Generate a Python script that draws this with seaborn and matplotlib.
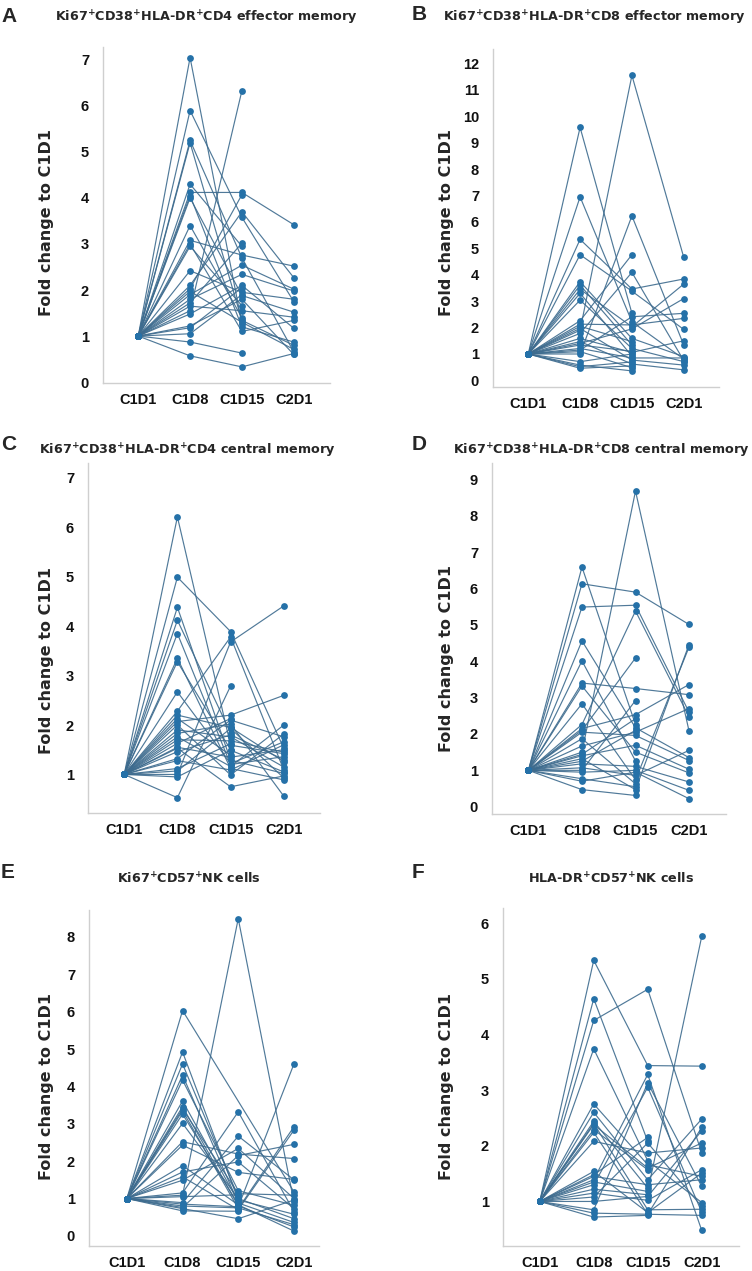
import numpy as np
import pandas as pd
import matplotlib
matplotlib.use("Agg")
import matplotlib.pyplot as plt
import seaborn as sns

nan = np.nan
TIMEPOINTS = ["C1D1", "C1D8", "C1D15", "C2D1"]

# A: Ki67+CD38+HLA-DR+ CD4 effector memory
A_C1D8 = [7.05, 5.9, 5.25, 5.2, 4.3, 4.12, 4.05, 4.0, 3.4, 3.08, 3.0, 2.95, 2.42, 2.1,
          2.03, 1.97, 1.9, 1.8, 1.72, 1.65, 1.55, 1.48, 1.22, 1.18, 1.05, 0.87, 0.57]
A_C1D15 = [1.27, 3.58, 2.7, 1.34, 2.95, 4.12, 1.2, 1.88, 1.4, 2.76, 1.1, 1.66, 1.95, 3.7,
           4.07, 1.3, 2.54, 2.34, 3.02, 1.55, 6.33, 2.1, 1.8, 2.05, 1.9, 0.63, 0.33]
A_C2D1 = [nan, 1.75, 0.66, 0.8, nan, 3.42, 0.87, 1.52, nan, 2.52, 1.34, nan, 1.8, 2.27,
          nan, 0.71, 2.02, 1.98, nan, 1.41, nan, 1.17, 0.6, nan, nan, nan, 0.62]

# B: Ki67+CD38+HLA-DR+ CD8 effector memory
B_C1D8 = [9.58, 6.95, 5.34, 4.76, 3.74, 3.61, 3.45, 3.3, 3.04, 2.26, 2.13, 2.05, 1.97, 1.9,
          1.78, 1.59, 1.47, 1.4, 1.34, 1.21, 1.15, 1.09, 1.0, 0.71, 0.58, 0.52, 0.46]
B_C1D15 = [2.54, 2.22, 3.46, 3.38, 1.59, 1.34, 2.03, 0.92, 1.21, 4.76, 2.1, 1.47, 0.77, 11.55,
           4.09, 1.06, 0.62, 1.95, 1.1, 0.85, 2.41, 0.48, 6.23, 1.0, 0.36, 0.7, 0.55]
B_C2D1 = [nan, 0.81, 3.84, 1.93, 0.9, nan, 3.65, nan, 0.71, nan, 2.35, nan, 0.58, 4.66,
          0.75, 1.5, 0.4, 3.1, nan, 0.85, 2.54, nan, 1.34, nan, nan, nan, nan]

# C: Ki67+CD38+HLA-DR+ CD4 central memory
C_C1D8 = [6.21, 4.99, 4.38, 4.12, 3.85, 3.35, 3.28, 2.67, 2.28, 2.2, 2.13, 2.07, 2.0, 1.9,
          1.83, 1.76, 1.7, 1.63, 1.55, 1.53, 1.46, 1.32, 1.28, 1.12, 1.07, 1.0, 0.95, 0.53]
C_C1D15 = [1.59, 3.89, 1.29, 1.84, 1.2, 1.12, 1.5, 1.22, 3.78, 1.95, 1.39, 2.2, 0.99, 1.76,
           2.02, 1.16, 1.68, 2.13, 1.35, 0.75, 1.8, 2.1, 1.09, 1.62, 1.93, 3.68, 1.49, 2.79]
C_C2D1 = [1.42, 1.53, 1.02, nan, 1.36, 0.89, nan, 1.66, 1.09, 1.26, nan, 2.6, 1.82, 1.15,
          0.56, 2.0, 1.45, nan, 1.5, 0.97, 1.3, 1.76, 1.6, nan, 0.93, 4.41, 1.05, nan]

# D: Ki67+CD38+HLA-DR+ CD8 central memory
D_C1D8 = [6.59, 6.13, 5.49, 4.56, 4.01, 3.4, 3.32, 2.83, 2.26, 2.15, 2.1, 2.05, 1.87,
          1.67, 1.5, 1.44, 1.4, 1.32, 1.25, 1.18, 1.07, 1.0, 0.95, 0.77, 0.7, 0.47]
D_C1D15 = [2.26, 5.9, 5.54, 2.17, 1.26, 3.25, 1.5, 0.74, 5.38, 2.53, 4.09, 1.96, 0.63,
           2.05, 8.68, 2.42, 1.69, 0.47, 2.1, 1.11, 0.86, 2.92, 1.0, 0.55, 0.95, 0.31]
D_C2D1 = [nan, 5.01, 2.6, 1.35, nan, 3.08, 0.93, 4.39, 2.47, 3.36, nan, 1.27, nan,
          2.7, 2.08, nan, 1.03, 4.46, nan, 0.68, 1.55, nan, 0.45, nan, 0.22, nan]

# E: Ki67+CD57+ NK cells
E_C1D8 = [6.03, 4.92, 4.6, 4.3, 4.17, 3.61, 3.46, 3.4, 3.35, 3.26, 3.01, 2.52, 2.43,
          1.88, 1.71, 1.58, 1.49, 1.15, 1.09, 1.05, 0.89, 0.85, 0.8, 0.76, 0.73, 0.67]
E_C1D15 = [nan, 0.96, 1.04, 0.88, 1.21, 0.92, 0.8, 1.13, 0.73, 0.85, 1.0, 2.19, 1.7,
           0.83, 1.98, 0.7, 2.34, 3.32, 8.49, 1.1, 2.67, 0.78, 0.75, 2.15, 0.46, 0.66]
E_C2D1 = [1.18, 0.58, nan, 0.36, 0.82, nan, 0.24, 1.09, 2.92, nan, 0.46, 2.07, 1.51,
          0.13, 0.73, 2.83, 1.0, 0.65, 0.9, nan, 1.5, 4.6, 0.3, 2.45, 0.96, nan]

# F: HLA-DR+CD57+ NK cells
F_C1D8 = [5.33, 4.64, 4.25, 3.74, 2.75, 2.6, 2.44, 2.4, 2.38, 2.29, 2.24, 2.08, 1.54,
          1.48, 1.45, 1.39, 1.35, 1.3, 1.22, 1.15, 1.08, 1.0, 0.85, 0.79, 0.72]
F_C1D15 = [3.44, 2.08, 4.81, 1.73, 1.66, 1.39, 1.24, 0.85, 1.6, 1.57, 0.77, 1.87, 0.8,
           2.15, 1.3, 3.28, 1.18, 3.05, 1.12, 1.02, 2.05, 1.09, 3.13, 0.77, 0.75]
F_C2D1 = [3.43, nan, 1.87, 0.98, 1.45, 2.48, nan, 0.86, 2.05, nan, 2.33, 1.96, 1.51,
          nan, 1.39, 0.48, 5.76, 0.81, nan, 1.57, 0.91, 2.27, 1.27, 0.75, nan]


def long_table(c1d8, c1d15, c2d1):
    rows = []
    for s, vals in enumerate(zip(c1d8, c1d15, c2d1)):
        for t, v in zip(TIMEPOINTS, (1.0,) + vals):
            if not np.isnan(v):
                rows.append({"subject": s, "pos": TIMEPOINTS.index(t), "value": v})
    return pd.DataFrame(rows)


sns.set_style("white")

LINE = "#3d6b8e"
DOT = "#2571a8"
SPINE = "#cfcfcf"

fig = plt.figure(figsize=(7.52, 12.71), dpi=100)
W, H = 752, 1271

panels = [
    # letter, title, data, axes box px (l, r, t, b), ylim, yticks, xlim right, letter xy, title xy, ylabel xy
    ("A", r"Ki67$^{\mathbf{+}}$CD38$^{\mathbf{+}}$HLA-DR$^{\mathbf{+}}$CD4 effector memory",
     (A_C1D8, A_C1D15, A_C2D1), (103, 330, 47, 383), (-0.02, 7.28), range(0, 8), 3.7,
     (1, 16), (206, 18), (47, 222)),
    ("B", r"Ki67$^{\mathbf{+}}$CD38$^{\mathbf{+}}$HLA-DR$^{\mathbf{+}}$CD8 effector memory",
     (B_C1D8, B_C1D15, B_C2D1), (493, 719, 49, 387), (-0.25, 12.55), range(0, 13), 3.68,
     (412, 15), (594, 18), (446, 222)),
    ("C", r"Ki67$^{\mathbf{+}}$CD38$^{\mathbf{+}}$HLA-DR$^{\mathbf{+}}$CD4 central memory",
     (C_C1D8, C_C1D15, C_C2D1), (88, 320, 463, 813), (0.22, 7.3), range(1, 8), 3.68,
     (1, 444), (187, 451), (47, 660)),
    ("D", r"Ki67$^{\mathbf{+}}$CD38$^{\mathbf{+}}$HLA-DR$^{\mathbf{+}}$CD8 central memory",
     (D_C1D8, D_C1D15, D_C2D1), (492, 726, 463, 814), (-0.2, 9.45), range(0, 10), 3.69,
     (412, 444), (601, 451), (446, 659)),
    ("E", r"Ki67$^{\mathbf{+}}$CD57$^{\mathbf{+}}$NK cells",
     (E_C1D8, E_C1D15, E_C2D1), (89, 319, 910, 1246), (-0.27, 8.72), range(0, 9), 3.45,
     (1, 872), (189, 879), (47, 1086)),
    ("F", r"HLA-DR$^{\mathbf{+}}$CD57$^{\mathbf{+}}$NK cells",
     (F_C1D8, F_C1D15, F_C2D1), (503, 739, 908, 1246), (0.2, 6.27), range(1, 7), 3.69,
     (412, 872), (611, 879), (446, 1086)),
]

for letter, title, series, box, ylim, yticks, xr, lxy, txy, yxy in panels:
    l, r, t, b = box
    ax = fig.add_axes([l / W, 1 - b / H, (r - l) / W, (b - t) / H])
    df = long_table(*series)
    sns.lineplot(data=df, x="pos", y="value", units="subject", estimator=None,
                 sort=False, color=LINE, lw=0.85, alpha=0.9, ax=ax, legend=False)
    sns.scatterplot(data=df, x="pos", y="value", color=DOT, s=24, linewidth=0,
                    zorder=3, ax=ax, legend=False)
    ax.set_xlim(-0.68, xr)
    ax.set_ylim(*ylim)
    ax.set_xticks(range(len(TIMEPOINTS)))
    ax.set_xticklabels(TIMEPOINTS)
    ax.set_yticks(list(yticks))
    ax.set_xlabel("")
    ax.set_ylabel("")
    for side in ("top", "right"):
        ax.spines[side].set_visible(False)
    for side in ("left", "bottom"):
        ax.spines[side].set_color(SPINE)
        ax.spines[side].set_linewidth(1.0)
    ax.tick_params(axis="both", which="major", length=4, width=0.8, color=SPINE,
                   direction="out", pad=3)
    ax.tick_params(axis="y", pad=6)
    for lab in ax.get_xticklabels() + ax.get_yticklabels():
        lab.set_fontfamily("Liberation Sans")
        lab.set_fontweight("bold")
        lab.set_fontsize(10.5)
        lab.set_color("#111111")

    fig.text(lxy[0] / W, 1 - lxy[1] / H, letter, fontsize=15, fontweight="bold",
             family="Liberation Sans", ha="left", va="center")
    fig.text(txy[0] / W, 1 - txy[1] / H, title, fontsize=9.2, fontweight="bold",
             family="DejaVu Sans", ha="center", va="center")
    fig.text(yxy[0] / W, 1 - yxy[1] / H, "Fold change to C1D1", fontsize=11.5,
             fontweight="bold", family="DejaVu Sans", rotation=90,
             ha="center", va="center")

fig.savefig("out.png", dpi=100, facecolor="white")
